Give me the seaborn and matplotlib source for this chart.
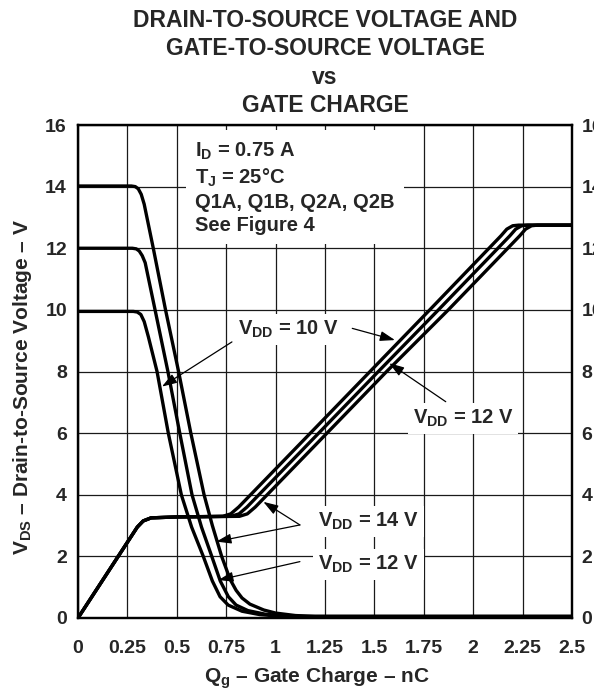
"""
Drain-to-source and gate-to-source voltage vs gate charge (datasheet figure).
"""
import matplotlib
matplotlib.use("Agg")
import matplotlib.pyplot as plt
import numpy as np
import pandas as pd
import seaborn as sns

# ---------------------------------------------------------
# Curve data (Qg in nC, volts)
# ---------------------------------------------------------
# falling V_DS curves
qg_ds_14 = [0, 0.27, 0.29, 0.305, 0.32, 0.335, 0.381, 0.443, 0.509, 0.571, 0.638,
            0.68, 0.727, 0.77, 0.80, 0.83, 0.87, 0.94, 1.0, 1.1, 1.2, 2.5]
vds_14 = [14.02, 14.02, 14.0, 13.93, 13.75, 13.43, 12.0, 10.0, 8.0, 6.0, 4.0,
          3.0, 2.0, 1.25, 0.9, 0.65, 0.45, 0.26, 0.16, 0.08, 0.05, 0.05]

qg_ds_12 = [0, 0.275, 0.295, 0.31, 0.325, 0.34, 0.39, 0.455, 0.515, 0.577,
            0.625, 0.677, 0.72, 0.761, 0.80, 0.86, 0.95, 1.05, 1.15, 2.5]
vds_12 = [12.0, 12.0, 11.98, 11.91, 11.76, 11.53, 10.0, 8.0, 6.0, 4.0,
          2.95, 2.0, 1.2, 0.69, 0.42, 0.24, 0.12, 0.07, 0.05, 0.05]

qg_ds_10 = [0, 0.28, 0.30, 0.318, 0.335, 0.356, 0.40, 0.457, 0.523,
            0.575, 0.634, 0.68, 0.719, 0.76, 0.83, 0.92, 1.02, 1.12, 2.5]
vds_10 = [9.95, 9.95, 9.93, 9.85, 9.62, 9.13, 8.0, 6.0, 4.0,
          2.95, 2.0, 1.2, 0.69, 0.42, 0.22, 0.11, 0.06, 0.05, 0.05]

# rising V_GS curves
qg_gs_10 = [0, 0.30, 0.33, 0.37, 0.5, 0.733, 0.773, 0.813, 1.176, 1.478, 1.78,
            2.08, 2.14, 2.17, 2.20, 2.23, 2.5]
vgs_10 = [0, 2.95, 3.15, 3.25, 3.28, 3.3, 3.38, 3.6, 6.0, 8.0, 10.0,
          12.0, 12.4, 12.62, 12.73, 12.75, 12.75]

qg_gs_12 = [0, 0.30, 0.33, 0.37, 0.5, 0.775, 0.815, 0.855, 1.218, 1.52, 1.824,
            2.125, 2.185, 2.215, 2.245, 2.275, 2.5]
vgs_12 = [0, 2.95, 3.15, 3.25, 3.28, 3.3, 3.38, 3.6, 6.0, 8.0, 10.0,
          12.0, 12.4, 12.62, 12.73, 12.75, 12.75]

qg_gs_14 = [0, 0.30, 0.33, 0.37, 0.5, 0.817, 0.857, 0.897, 1.26, 1.562, 1.874,
            2.175, 2.235, 2.265, 2.295, 2.325, 2.5]
vgs_14 = [0, 2.95, 3.15, 3.25, 3.28, 3.3, 3.38, 3.6, 6.0, 8.0, 10.0,
          12.0, 12.4, 12.62, 12.73, 12.75, 12.75]

x_ticks = [0, 0.25, 0.5, 0.75, 1, 1.25, 1.5, 1.75, 2, 2.25, 2.5]
x_tick_labels = ["0", "0.25", "0.5", "0.75", "1", "1.25", "1.5", "1.75", "2", "2.25", "2.5"]
y_ticks = [0, 2, 4, 6, 8, 10, 12, 14, 16]

curves = {
    "vds_14": (qg_ds_14, vds_14),
    "vds_12": (qg_ds_12, vds_12),
    "vds_10": (qg_ds_10, vds_10),
    "vgs_10": (qg_gs_10, vgs_10),
    "vgs_12": (qg_gs_12, vgs_12),
    "vgs_14": (qg_gs_14, vgs_14),
}
df = pd.concat(
    [pd.DataFrame({"qg": q, "v": v, "curve": name}) for name, (q, v) in curves.items()],
    ignore_index=True,
)

# ---------------------------------------------------------
# Style
# ---------------------------------------------------------
sns.set_style("white")
plt.rcParams["font.family"] = ["Liberation Sans", "DejaVu Sans"]
plt.rcParams["font.weight"] = "bold"
plt.rcParams["mathtext.fontset"] = "custom"
plt.rcParams["mathtext.rm"] = "Liberation Sans:bold"
plt.rcParams["mathtext.it"] = "Liberation Sans:bold"
plt.rcParams["mathtext.bf"] = "Liberation Sans:bold"

fig = plt.figure(figsize=(5.94, 6.93), dpi=100)
ax = fig.add_axes([78 / 594, 75 / 693, 494 / 594, 493 / 693])

sns.lineplot(data=df, x="qg", y="v", units="curve", estimator=None, sort=False,
             color="black", lw=2.4, legend=False, ax=ax, zorder=4)

ax.set_xlim(0, 2.5)
ax.set_ylim(0, 16)
ax.set_xticks(x_ticks)
ax.set_xticklabels(x_tick_labels)
ax.set_yticks(y_ticks)
ax.grid(True, color="0.1", lw=0.9)
ax.set_axisbelow(True)
ax.tick_params(axis="x", length=0, labelsize=14, pad=16)
ax.tick_params(axis="y", length=0, labelsize=14, pad=8)
for s in ax.spines.values():
    s.set_linewidth(1.6)
    s.set_color("black")

# right-hand V_GS scale (same range), cut off at the page edge like the original
ax2 = ax.twinx()
ax2.set_ylim(0, 16)
ax2.set_yticks(y_ticks)
ax2.tick_params(axis="y", length=0, labelsize=14, pad=7)
for s in ax2.spines.values():
    s.set_linewidth(1.6)
    s.set_color("black")

ax.set_title("DRAIN-TO-SOURCE VOLTAGE AND\nGATE-TO-SOURCE VOLTAGE\nvs\nGATE CHARGE",
             fontsize=16.5, fontweight="bold", pad=9, linespacing=1.31)

ax.set_xlabel("$\\mathrm{Q_g}$ – Gate Charge – nC", fontsize=15, fontweight="bold")
ax.xaxis.label.set_va("center")
ax.xaxis.set_label_coords(0.484, -0.1217)
ax.set_ylabel("$\\mathrm{V_{DS}}$ – Drain-to-Source Voltage – V", fontsize=15, fontweight="bold")
ax.yaxis.label.set_va("center")
ax.yaxis.set_label_coords(-0.113, 0.469)

# ---------------------------------------------------------
# Annotations
# ---------------------------------------------------------
box = dict(boxstyle="square,pad=0.25", fc="white", ec="none")
ax.text(0.592, 15.5, "$\\mathrm{I_D}$ = 0.75 A\n$\\mathrm{T_J}$ = 25°C\nQ1A, Q1B, Q2A, Q2B\nSee Figure 4",
        ha="left", va="top", fontsize=14.5, fontweight="bold", linespacing=1.28,
        bbox=dict(boxstyle="square,pad=0.45", fc="white", ec="none"), zorder=3)

ax.text(1.063, 9.185, "$\\mathrm{V_{DD}}$ = 10 V", ha="center", va="baseline",
        fontsize=14.5, fontweight="bold", bbox=box, zorder=3)
ax.text(1.948, 6.30, "$\\mathrm{V_{DD}}$ = 12 V", ha="center", va="baseline",
        fontsize=14.5, fontweight="bold", bbox=box, zorder=3)
ax.text(1.470, 2.966, "$\\mathrm{V_{DD}}$ = 14 V", ha="center", va="baseline",
        fontsize=14.5, fontweight="bold", bbox=box, zorder=3)
ax.text(1.470, 1.558, "$\\mathrm{V_{DD}}$ = 12 V", ha="center", va="baseline",
        fontsize=14.5, fontweight="bold", bbox=box, zorder=3)

arrow = dict(arrowstyle="-|>,head_length=0.9,head_width=0.3", color="black", lw=0.9,
             shrinkA=0, shrinkB=0, mutation_scale=10)
ax.annotate("", xy=(0.425, 7.51), xytext=(0.779, 8.96), arrowprops=arrow, zorder=5)
ax.annotate("", xy=(1.604, 9.02), xytext=(1.388, 9.40), arrowprops=arrow, zorder=5)
ax.annotate("", xy=(1.575, 8.27), xytext=(1.861, 7.02), arrowprops=arrow, zorder=5)
ax.annotate("", xy=(0.938, 3.77), xytext=(1.123, 3.02), arrowprops=arrow, zorder=5)
ax.annotate("", xy=(0.700, 2.48), xytext=(1.123, 3.02), arrowprops=arrow, zorder=5)
ax.annotate("", xy=(0.710, 1.23), xytext=(1.123, 1.83), arrowprops=arrow, zorder=5)

fig.savefig("out.png", dpi=100)
